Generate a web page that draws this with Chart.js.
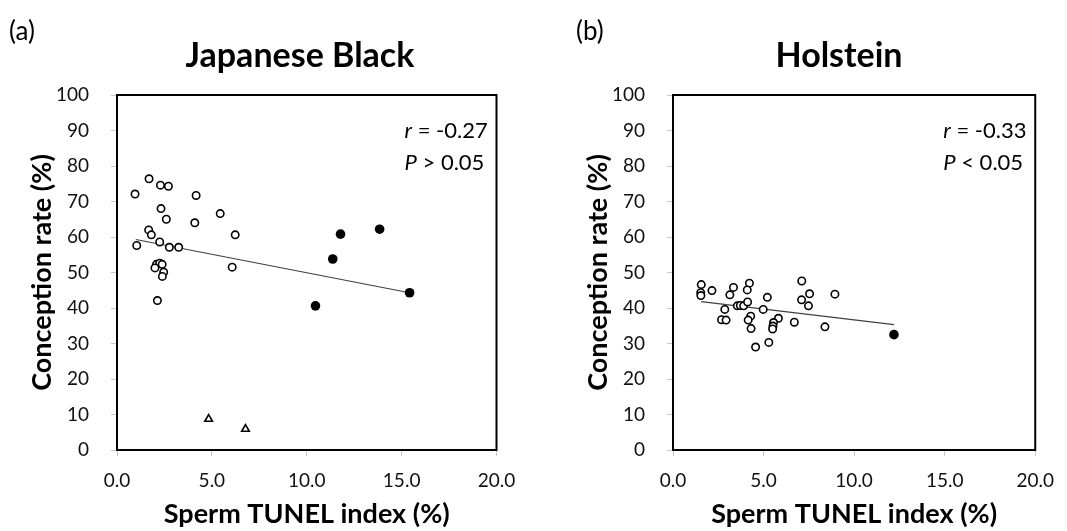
<!DOCTYPE html>
<html>
<head>
<meta charset="utf-8">
<title>Sperm TUNEL index vs conception rate</title>
<script src="https://cdn.jsdelivr.net/npm/chart.js@4"></script>
<style>
    html, body { margin: 0; padding: 0; background: #fff; }
    #wrapA { position: absolute; left: 0; top: 0; width: 533px; height: 531px; }
    #wrapB { position: absolute; left: 556px; top: 0; width: 511px; height: 531px; }
</style>
</head>
<body>
<div id="wrapA"><canvas id="chartA"></canvas></div>
<div id="wrapB"><canvas id="chartB"></canvas></div>
<script>
// =============================================
// Sperm TUNEL index vs conception rate, two panels
// =============================================

// Axis ticks
const xTicks = [0, 5, 10, 15, 20];
const yTicks = [0, 10, 20, 30, 40, 50, 60, 70, 80, 90, 100];

// (a) Japanese Black - open circles
const jbOpenX = [1.69, 2.29, 2.71, 0.95, 4.17, 2.32, 5.44, 2.60, 4.10, 1.67, 1.81, 6.23, 2.25, 1.04, 2.76, 3.25, 2.08, 2.25, 2.38, 2.00, 6.07, 2.46, 2.39, 2.13];
const jbOpenY = [76.4, 74.6, 74.3, 72.1, 71.7, 68.0, 66.6, 65.0, 64.0, 62.0, 60.6, 60.6, 58.6, 57.6, 57.1, 57.1, 52.3, 52.6, 52.3, 51.3, 51.5, 50.1, 48.9, 42.1];
// (a) filled circles
const jbFillX = [10.46, 11.37, 11.78, 13.84, 15.42];
const jbFillY = [40.6, 53.8, 60.8, 62.2, 44.3];
// (a) triangles
const jbTriX = [4.83, 6.77];
const jbTriY = [8.7, 5.9];
// (a) regression line ends
const jbLineX = [0.99, 15.42];
const jbLineY = [59.3, 44.3];

// (b) Holstein - open circles
const hoOpenX = [1.56, 1.53, 1.54, 2.15, 3.14, 3.34, 2.86, 2.68, 2.93, 3.55, 3.72, 3.90, 4.12, 4.22, 4.10, 5.21, 7.11, 7.54, 7.10, 7.48, 8.94, 4.98, 4.29, 4.15, 4.31, 5.82, 5.55, 5.52, 5.50, 6.70, 8.39, 4.56, 5.29];
const hoOpenY = [46.6, 44.3, 43.5, 44.9, 43.7, 45.8, 39.6, 36.7, 36.6, 40.6, 40.7, 40.6, 41.7, 47.0, 45.1, 43.0, 47.6, 44.0, 42.3, 40.6, 43.9, 39.6, 37.7, 36.6, 34.2, 37.1, 35.9, 34.9, 34.1, 36.0, 34.7, 29.0, 30.3];
// (b) filled circles
const hoFillX = [12.2];
const hoFillY = [32.5];
// (b) regression line ends
const hoLineX = [1.56, 12.2];
const hoLineY = [41.8, 35.3];

const FONT = 'Lato, "Open Sans", sans-serif';

/**
 * x/y massivlaridan {x, y} nuqtalar yasash
 */
function nuqtalar(xs, ys) {
    return xs.map((x, i) => ({ x: x, y: ys[i] }));
}

// Plot box, title, panel label and r / P text
const ramkaPlugin = {
    id: 'ramka',
    afterDraw(chart, args, o) {
        const ctx = chart.ctx;
        const a = chart.chartArea;
        ctx.save();
        ctx.strokeStyle = '#000';
        ctx.lineWidth = 2;
        ctx.strokeRect(a.left, a.top, a.right - a.left, a.bottom - a.top);

        ctx.fillStyle = '#000';
        ctx.textBaseline = 'alphabetic';

        // title
        ctx.font = 'bold 34px ' + FONT;
        ctx.textAlign = 'center';
        ctx.fillText(o.title, o.titleX, 67);

        // panel label
        ctx.font = '26px ' + FONT;
        ctx.textAlign = 'left';
        ctx.fillText(o.panel, o.panelX, 40);

        // r and P
        const tx = a.right - 92;
        ctx.font = 'italic 22px ' + FONT;
        ctx.fillText('r', tx, 138);
        let w = ctx.measureText('r').width;
        ctx.font = '22px ' + FONT;
        ctx.fillText(' = ' + o.r, tx + w, 138);

        ctx.font = 'italic 22px ' + FONT;
        ctx.fillText('P', tx, 170);
        w = ctx.measureText('P').width;
        ctx.font = '22px ' + FONT;
        ctx.fillText(' ' + o.p, tx + w, 170);
        ctx.restore();
    }
};

/**
 * Bitta panelni chizish
 */
function chizPanel(canvasId, d) {
    const ctx = document.getElementById(canvasId).getContext('2d');

    const datasets = [
        {
            type: 'line',
            data: nuqtalar(d.lineX, d.lineY),
            borderColor: '#404040',
            borderWidth: 1.2,
            pointRadius: 0,
            fill: false,
            order: 3
        },
        {
            data: nuqtalar(d.openX, d.openY),
            pointStyle: 'circle',
            pointRadius: 3.7,
            pointBorderWidth: 1.6,
            pointBorderColor: '#000',
            pointBackgroundColor: '#fff',
            order: 2
        },
        {
            data: nuqtalar(d.fillX, d.fillY),
            pointStyle: 'circle',
            pointRadius: 4.8,
            pointBorderWidth: 0,
            pointBackgroundColor: '#000',
            order: 1
        }
    ];
    if (d.triX) {
        datasets.push({
            data: nuqtalar(d.triX, d.triY),
            pointStyle: 'triangle',
            pointRadius: 4.4,
            pointBorderWidth: 1.6,
            pointBorderColor: '#000',
            pointBackgroundColor: '#fff',
            order: 1
        });
    }

    return new Chart(ctx, {
        type: 'scatter',
        data: { datasets: datasets },
        plugins: [ramkaPlugin],
        options: {
            responsive: true,
            maintainAspectRatio: false,
            animation: false,
            layout: { padding: { top: 95, right: d.padRight, bottom: 0, left: 0 } },
            plugins: {
                legend: { display: false },
                tooltip: { enabled: false },
                ramka: { title: d.title, titleX: d.titleX, panel: d.panel, panelX: d.panelX, r: d.r, p: d.p }
            },
            scales: {
                x: {
                    type: 'linear',
                    min: 0,
                    max: 20,
                    afterBuildTicks: (s) => { s.ticks = xTicks.map(v => ({ value: v })); },
                    afterFit: (s) => { s.height = 81; },
                    border: { display: true, color: '#000', width: 2 },
                    grid: { drawOnChartArea: false, drawTicks: true, tickLength: 6, color: '#c8c8c8' },
                    ticks: {
                        padding: 13,
                        color: '#111',
                        font: { family: FONT, size: 19 },
                        callback: (v) => Number(v).toFixed(1)
                    },
                    title: {
                        display: true,
                        text: 'Sperm TUNEL index (%)',
                        color: '#000',
                        font: { family: FONT, size: 27, weight: 'bold' },
                        padding: { top: 0, bottom: 1 }
                    }
                },
                y: {
                    type: 'linear',
                    min: 0,
                    max: 100,
                    afterBuildTicks: (s) => { s.ticks = yTicks.map(v => ({ value: v })); },
                    afterFit: (s) => { s.width = 117; },
                    border: { display: true, color: '#000', width: 2 },
                    grid: { drawOnChartArea: false, drawTicks: true, tickLength: 6, color: '#c8c8c8' },
                    ticks: {
                        padding: 22,
                        color: '#111',
                        font: { family: FONT, size: 19 }
                    },
                    title: {
                        display: true,
                        text: 'Conception rate (%)',
                        color: '#000',
                        font: { family: FONT, size: 27, weight: 'bold' },
                        padding: { top: 26, bottom: 0 }
                    }
                }
            }
        }
    });
}

chizPanel('chartA', {
    openX: jbOpenX, openY: jbOpenY,
    fillX: jbFillX, fillY: jbFillY,
    triX: jbTriX, triY: jbTriY,
    lineX: jbLineX, lineY: jbLineY,
    title: 'Japanese Black', titleX: 300,
    panel: '(a)', panelX: 9,
    r: '-0.27', p: '> 0.05',
    padRight: 36.5
});

chizPanel('chartB', {
    openX: hoOpenX, openY: hoOpenY,
    fillX: hoFillX, fillY: hoFillY,
    lineX: hoLineX, lineY: hoLineY,
    title: 'Holstein', titleX: 283,
    panel: '(b)', panelX: 20,
    r: '-0.33', p: '< 0.05',
    padRight: 18.5
});
</script>
</body>
</html>
